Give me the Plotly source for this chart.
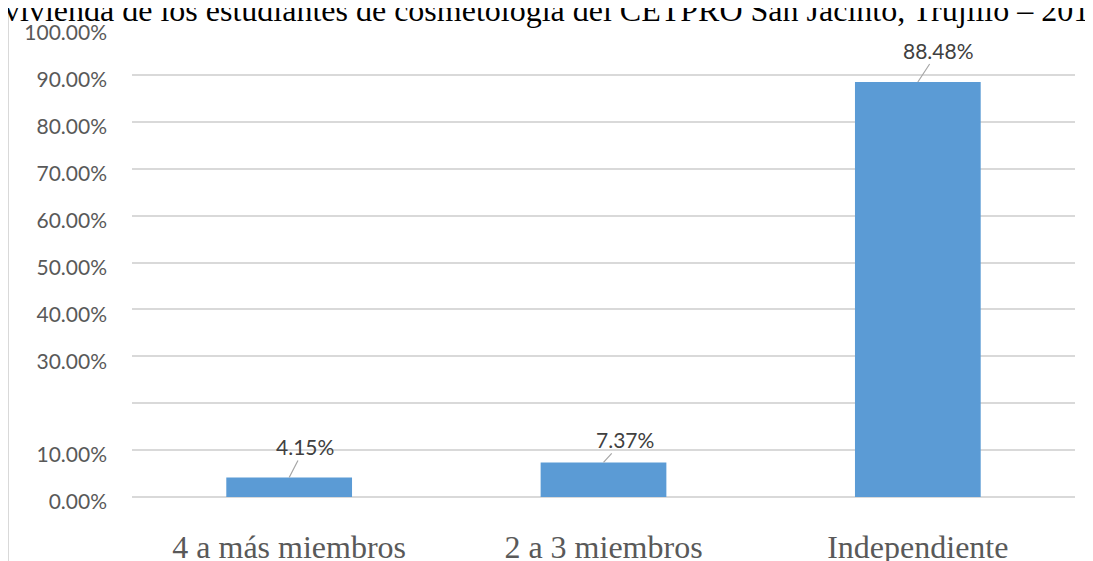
import plotly.graph_objects as go

categories = ["4 a más miembros", "2 a 3 miembros", "Independiente"]
values = [4.15, 7.37, 88.48]
tick_vals = [0, 10, 20, 30, 40, 50, 60, 70, 80, 90, 100]
tick_text = ["0.00%", "10.00%", "", "30.00%", "40.00%", "50.00%", "60.00%",
             "70.00%", "80.00%", "90.00%", "100.00%"]
title_text = "vivienda de los estudiantes de cosmetología del CETPRO San Jacinto, Trujillo – 2018"

# label placement offsets (pixels) for the data labels
label_dx = [16, 21, 21]
label_dy = [-31, -23, -32]

OFF = 8  # page body margin
W, H = 1093, 561
L, T = 132 - OFF, 28 - OFF
R = W - (1075 - OFF)
B = H - (497 - OFF)
PW, PH = W - L - R, H - T - B


def px_to_paper_x(px):
    return (px - OFF - L) / PW


def px_to_paper_y(py):
    return (H - B - (py - OFF)) / PH


fig = go.Figure()
fig.add_trace(go.Bar(x=categories, y=values, marker_color="#5B9BD5",
                     marker_line_width=0, hoverinfo="skip"))

for c, v, dx, dy in zip(categories, values, label_dx, label_dy):
    fig.add_annotation(x=c, y=v, xref="x", yref="y", text=f"{v:.2f}%",
                       showarrow=True, arrowhead=0, arrowwidth=1.2,
                       arrowcolor="#A6A6A6", ax=dx, ay=dy, standoff=0,
                       font=dict(family="Lato, Open Sans, sans-serif", size=21, color="#404040"))

fig.add_annotation(x=px_to_paper_x(3), y=px_to_paper_y(29),
                   xref="paper", yref="paper", xanchor="left", yanchor="bottom",
                   text=title_text, showarrow=False, borderpad=0,
                   font=dict(family="Liberation Serif, Times New Roman, serif", size=32, color="#000000"))

fig.add_shape(type="line", xref="paper", yref="paper",
              x0=px_to_paper_x(8), x1=px_to_paper_x(8),
              y0=px_to_paper_y(600), y1=px_to_paper_y(-20),
              line=dict(color="#D9D9D9", width=2))

fig.update_layout(
    width=W, height=H,
    margin=dict(l=L, r=R, t=T, b=B, autoexpand=False),
    paper_bgcolor="white", plot_bgcolor="white",
    bargap=0.6, showlegend=False,
    xaxis=dict(showgrid=False, zeroline=False, showline=False, ticks="",
               automargin=False, ticklabelstandoff=28,
               tickfont=dict(family="Liberation Serif, Times New Roman, serif", size=32, color="#595959")),
    yaxis=dict(range=[0, 100], tickvals=tick_vals, ticktext=tick_text,
               showgrid=True, gridcolor="#D9D9D9", gridwidth=1.5,
               zeroline=True, zerolinecolor="#D9D9D9", zerolinewidth=1.5,
               showline=False, ticks="", ticklabelstandoff=24, ticklabelshift=5,
               automargin=False,
               tickfont=dict(family="Lato, Open Sans, sans-serif", size=21, color="#595959")),
)

fig.write_html("out.html")
